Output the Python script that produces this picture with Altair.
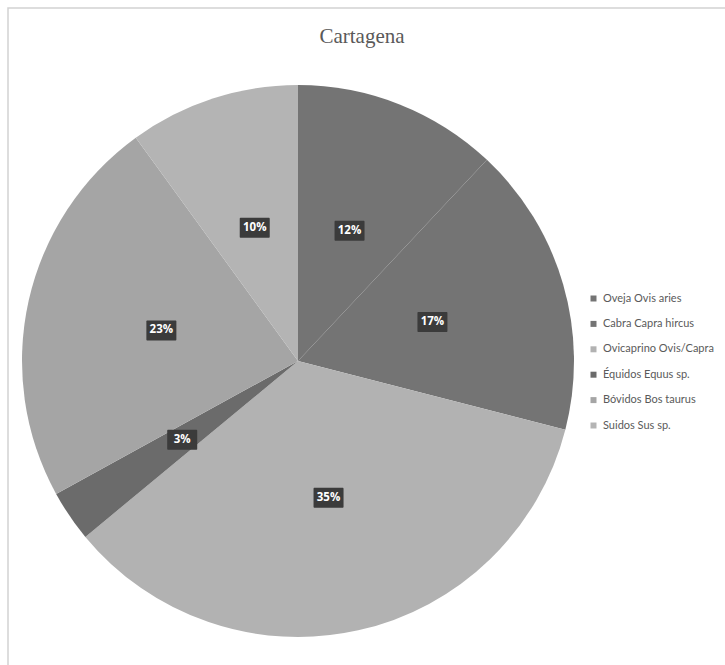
import altair as alt
import pandas as pd

# Faunal remains from Cartagena, share of identified specimens by taxon
categories = [
    "Oveja Ovis aries",
    "Cabra Capra hircus",
    "Ovicaprino Ovis/Capra",
    "Équidos Equus sp.",
    "Bóvidos Bos taurus",
    "Suidos Sus sp.",
]
percent = [12, 17, 35, 3, 23, 10]
shades = ["#747474", "#747474", "#b2b2b2", "#6b6b6b", "#a5a5a5", "#b4b4b4"]

df = pd.DataFrame({"categoria": categories, "pct": percent, "orden": list(range(len(categories)))})

CX, CY, R = 298, 361, 276
LABEL_R = 140

base = alt.Chart(df)

pie = base.mark_arc(outerRadius=R).encode(
    theta=alt.Theta("pct:Q", stack=True),
    order=alt.Order("orden:Q"),
    color=alt.Color(
        "categoria:N",
        scale=alt.Scale(domain=categories, range=shades),
        sort=categories,
        legend=alt.Legend(
            title=None,
            orient="none",
            legendX=588,
            legendY=293,
            symbolType="square",
            symbolSize=36,
            symbolStrokeWidth=0,
            labelFont="Lato",
            labelFontSize=11,
            labelColor="#5a5a5a",
            rowPadding=13.4,
            labelOffset=4,
        ),
    ),
    x=alt.value(CX),
    y=alt.value(CY),
)

# label positions at the middle angle of each slice
positioned = base.transform_window(
    cum="sum(pct)", sort=[alt.SortField("orden")], frame=[None, 0]
).transform_calculate(
    ang="(datum.cum - datum.pct / 2) / 100 * 2 * PI",
    lx=f"{CX} + {LABEL_R} * sin(datum.ang)",
    ly=f"{CY} - {LABEL_R} * cos(datum.ang)",
    bx1="datum.lx - 15",
    bx2="datum.lx + 15",
    by1="datum.ly - 10",
    by2="datum.ly + 10",
    etiqueta="datum.pct + '%'",
)

boxes = positioned.mark_rect(color="#3b3b3b", cornerRadius=1).encode(
    x=alt.X("bx1:Q", scale=None),
    x2="bx2:Q",
    y=alt.Y("by1:Q", scale=None),
    y2="by2:Q",
)

labels = positioned.mark_text(
    font="Open Sans", fontWeight="bold", fontSize=11.5, color="white", baseline="middle", align="center"
).encode(
    x=alt.X("lx:Q", scale=None),
    y=alt.Y("ly:Q", scale=None),
    text="etiqueta:N",
)

title = alt.Chart(pd.DataFrame({"t": ["Cartagena"]})).mark_text(
    font="Liberation Serif", fontSize=21, color="#595959", align="center", baseline="middle"
).encode(x=alt.value(362), y=alt.value(37), text="t:N")

frame = alt.Chart(pd.DataFrame({"a": [0]})).mark_rect(
    fill=None, stroke="#d2d2d2", strokeWidth=1.5
).encode(x=alt.value(8), x2=alt.value(740), y=alt.value(8), y2=alt.value(680))

chart = alt.layer(frame, pie, boxes, labels, title).properties(
    width=725,
    height=665,
    padding=0,
    autosize=alt.AutoSizeParams(type="none"),
    background="white",
).configure_view(stroke=None)

chart.save("out.html", embed_options={"renderer": "svg", "actions": False})
